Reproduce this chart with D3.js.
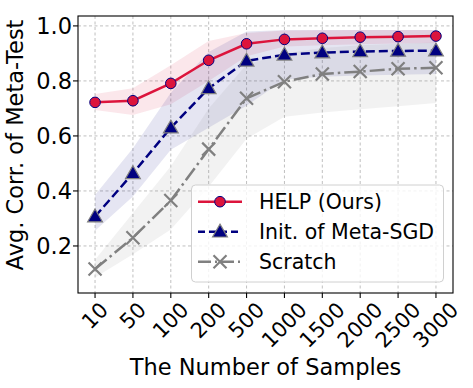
<!DOCTYPE html>
<html><head><meta charset="utf-8">
<script src="https://cdn.jsdelivr.net/npm/d3@7"></script>
<style>body{margin:0;background:#fff}svg{display:block;font-family:"DejaVu Sans",sans-serif}</style>
</head><body>
<svg id="c" width="473" height="388"></svg>
<script>
const categories = ["10","50","100","200","500","1000","1500","2000","2500","3000"];
const yTicks = [0.2,0.4,0.6,0.8,1.0];
const helpMean  = [0.722,0.728,0.791,0.875,0.935,0.951,0.955,0.959,0.961,0.963];
const helpUpper = [0.752,0.773,0.857,0.945,0.974,0.983,0.984,0.985,0.985,0.985];
const helpLower = [0.694,0.676,0.715,0.800,0.890,0.925,0.930,0.933,0.936,0.938];
const metaMean  = [0.307,0.464,0.630,0.773,0.873,0.895,0.903,0.907,0.909,0.910];
const metaUpper = [0.385,0.555,0.757,0.905,0.980,0.985,0.985,0.985,0.985,0.985];
const metaLower = [0.255,0.380,0.550,0.630,0.710,0.805,0.815,0.820,0.822,0.825];
const scrMean   = [0.116,0.230,0.365,0.552,0.737,0.797,0.825,0.834,0.844,0.848];
const scrUpper  = [0.150,0.320,0.490,0.700,0.860,0.900,0.920,0.930,0.935,0.940];
const scrLower  = [0.085,0.170,0.260,0.415,0.590,0.670,0.685,0.697,0.708,0.720];
const seriesNames = ["HELP (Ours)","Init. of Meta-SGD","Scratch"];

const svg = d3.select("#c");
const L=78,R=453,T=16,B=293;
const x = d3.scalePoint().domain(categories).range([L,R]).padding(0.45);
const y = d3.scaleLinear().domain([0.029,1.036]).range([B,T]);

// grid
const grid = svg.append("g").attr("stroke","#b0b0b0").attr("stroke-width",0.8).attr("stroke-dasharray","3,2.5");
categories.forEach(c=>grid.append("line").attr("x1",x(c)).attr("x2",x(c)).attr("y1",T).attr("y2",B));
yTicks.forEach(v=>grid.append("line").attr("x1",L).attr("x2",R).attr("y1",y(v)).attr("y2",y(v)));

const series = [
  {mean:helpMean,up:helpUpper,lo:helpLower,color:"#DC143C",fill:"rgba(220,20,60,0.1)",dash:null,marker:"circle"},
  {mean:metaMean,up:metaUpper,lo:metaLower,color:"#000080",fill:"rgba(0,0,128,0.1)",dash:"9,4",marker:"tri"},
  {mean:scrMean,up:scrUpper,lo:scrLower,color:"#808080",fill:"rgba(128,128,128,0.1)",dash:"15,4,2.5,4",marker:"x"}
];
const area = d3.area().x((d,i)=>x(categories[i])).y0(d=>y(d[0])).y1(d=>y(d[1]));
series.forEach(s=>{
  svg.append("path").datum(s.lo.map((v,i)=>[v,s.up[i]])).attr("d",area).attr("fill",s.fill);
});
const line = d3.line().x((d,i)=>x(categories[i])).y(d=>y(d));
function marker(g,type,cx,cy){
  if(type==="circle") g.append("circle").attr("cx",cx).attr("cy",cy).attr("r",5.3).attr("fill","#DC143C").attr("stroke","#000080").attr("stroke-width",1);
  else if(type==="tri") g.append("path").attr("d",d3.symbol(d3.symbolTriangle,95)()).attr("transform",`translate(${cx},${cy+1})`).attr("fill","#000080").attr("stroke","#808080").attr("stroke-width",1.2);
  else g.append("path").attr("d","M-6.5,-6.5L6.5,6.5M-6.5,6.5L6.5,-6.5").attr("transform",`translate(${cx},${cy})`).attr("stroke","#808080").attr("stroke-width",2.2).attr("fill","none");
}
[2,1,0].forEach(k=>{
  const s=series[k];
  svg.append("path").datum(s.mean).attr("d",line).attr("fill","none").attr("stroke",s.color).attr("stroke-width",2.5).attr("stroke-dasharray",s.dash);
  const g=svg.append("g");
  s.mean.forEach((v,i)=>marker(g,s.marker,x(categories[i]),y(v)));
});

// frame
svg.append("rect").attr("x",L).attr("y",T).attr("width",R-L).attr("height",B-T).attr("fill","none").attr("stroke","#000").attr("stroke-width",1.1);

// y axis
yTicks.forEach(v=>{
  svg.append("line").attr("x1",L-5).attr("x2",L).attr("y1",y(v)).attr("y2",y(v)).attr("stroke","#000").attr("stroke-width",1.1);
  svg.append("text").attr("x",L-6).attr("y",y(v)).attr("text-anchor","end").attr("dominant-baseline","central").attr("font-size",22.5).text(v.toFixed(1));
});
// x axis
categories.forEach(c=>{
  svg.append("line").attr("x1",x(c)).attr("x2",x(c)).attr("y1",B).attr("y2",B+5).attr("stroke","#000").attr("stroke-width",1.1);
  const t=svg.append("text").attr("font-size",21).attr("text-anchor","middle").attr("dominant-baseline","central").text(c);
  const w=t.node().getComputedTextLength();
  const h=15;
  const half=(w+h)*Math.SQRT1_2/2;
  t.attr("transform",`translate(${x(c)},${B+8+half}) rotate(-45)`);
});
svg.append("text").attr("x",(L+R)/2).attr("y",374.5).attr("text-anchor","middle").attr("font-size",22.5).text("The Number of Samples");
svg.append("text").attr("transform",`translate(23,145) rotate(-90)`).attr("text-anchor","middle").attr("font-size",22.5).text("Avg. Corr. of Meta-Test");

// legend
const lg=svg.append("g");
lg.append("rect").attr("x",191.5).attr("y",185).attr("width",252).attr("height",97).attr("rx",4).attr("fill","rgba(255,255,255,0.8)").attr("stroke","#d0d0d0").attr("stroke-width",1);
const rows=[201.7,231.7,261.7];
series.forEach((s,k)=>{
  lg.append("line").attr("x1",198).attr("x2",242).attr("y1",rows[k]).attr("y2",rows[k]).attr("stroke",s.color).attr("stroke-width",2.5).attr("stroke-dasharray",s.dash? (k===1?"7,4":"13,4,2,4"):null);
  marker(lg,s.marker,220,rows[k]);
  lg.append("text").attr("x",259).attr("y",rows[k]).attr("dominant-baseline","central").attr("font-size",20.5).text(seriesNames[k]);
});
</script>
</body></html>
